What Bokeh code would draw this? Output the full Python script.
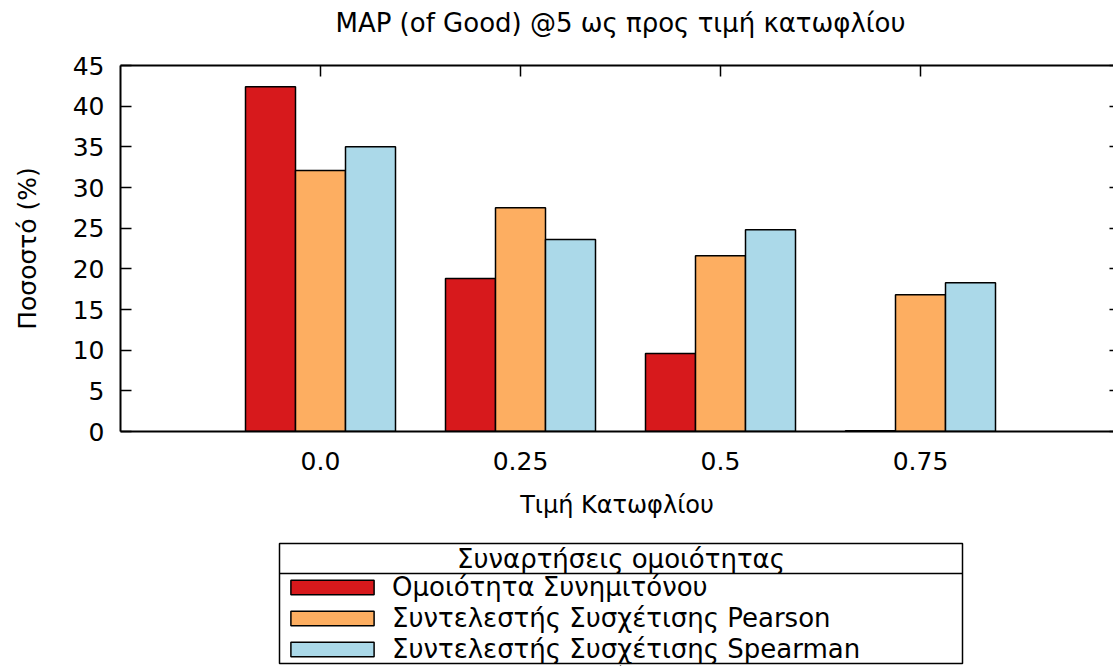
from bokeh.plotting import figure
from bokeh.layouts import column
from bokeh.models import (Range1d, LinearAxis, FixedTicker, Legend, LegendItem,
                          ColumnDataSource)
from bokeh.core.properties import value
from bokeh.embed import file_html
from bokeh.resources import INLINE

# MAP (of Good) @5 per similarity threshold
thresholds = ["0.0", "0.25", "0.5", "0.75"]
cosine = [42.4, 18.8, 9.6, 0.1]
pearson = [32.1, 27.5, 21.6, 16.8]
spearman = [35.0, 23.6, 24.8, 18.3]

series_names = ["Ομοιότητα Συνημιτόνου",
                "Συντελεστής Συσχέτισης Pearson",
                "Συντελεστής Συσχέτισης Spearman"]
series_values = [cosine, pearson, spearman]
series_colors = ["#d7191c", "#fdae61", "#abd9e9"]
chart_title = "MAP (of Good) @5 ως προς τιμή κατωφλίου"
legend_title = "Συναρτήσεις ομοιότητας"

FONT = "DejaVu Sans"
positions = list(range(len(thresholds)))
bar_w = 0.25
offsets = [-bar_w, 0.0, bar_w]

# Title strip; frame spans page x 120..1113 so data x equals page pixels
tf = figure(width=1113, height=45, output_backend="svg", toolbar_location=None,
            x_range=Range1d(120, 1113), y_range=Range1d(0, 45),
            min_border_left=120, min_border_right=0, min_border_top=0,
            min_border_bottom=0, x_axis_location=None, y_axis_location=None)
tf.grid.visible = False
tf.outline_line_color = None
tf.text(x=[620], y=[23], text=[chart_title], text_align="center",
        text_baseline="middle", text_font=value(FONT), text_font_size="26px",
        text_color="black")

p = figure(width=1113, height=485, output_backend="svg", toolbar_location=None,
           x_range=Range1d(-1, 3.965), y_range=Range1d(0, 45),
           min_border_left=120, min_border_right=0, min_border_top=20,
           min_border_bottom=99, x_axis_location=None, y_axis_location=None)
p.grid.visible = False
p.outline_line_color = None
p.background_fill_color = "white"

for vals, off, col in zip(series_values, offsets, series_colors):
    src = ColumnDataSource(dict(x=[i + off for i in positions], top=vals))
    p.vbar(x="x", top="top", bottom=0, width=bar_w, source=src,
           fill_color=col, line_color="black", line_width=1.5)

ytick = FixedTicker(ticks=list(range(0, 50, 5)))
xtick = FixedTicker(ticks=positions)

left = LinearAxis(ticker=ytick, axis_label="Ποσοστό (%)")
left.major_tick_in = 11
left.major_tick_out = 0
left.minor_tick_line_color = None
left.axis_line_width = 2
left.major_tick_line_width = 1.5
left.major_label_text_font = FONT
left.major_label_text_font_size = "25px"
left.major_label_text_color = "black"
left.major_label_standoff = 16
left.axis_label_text_font = FONT
left.axis_label_text_font_size = "25px"
left.axis_label_text_font_style = "normal"
left.axis_label_text_color = "black"
left.axis_label_standoff = 28
p.add_layout(left, "left")

bottom = LinearAxis(ticker=xtick, axis_label="Τιμή Κατωφλίου")
bottom.major_label_overrides = {i: t for i, t in zip(positions, thresholds)}
bottom.major_tick_in = 0
bottom.major_tick_out = 0
bottom.minor_tick_line_color = None
bottom.axis_line_width = 2
bottom.major_label_text_font = FONT
bottom.major_label_text_font_size = "25px"
bottom.major_label_text_color = "black"
bottom.major_label_standoff = 20
bottom.axis_label_text_font = FONT
bottom.axis_label_text_font_size = "24px"
bottom.axis_label_text_font_style = "normal"
bottom.axis_label_text_color = "black"
bottom.axis_label_standoff = 18
p.add_layout(bottom, "below")

# mirrored tick marks on the top and right edges, no labels
top = LinearAxis(ticker=xtick)
top.major_tick_in = 11
top.major_tick_out = 0
top.minor_tick_line_color = None
top.axis_line_width = 2
top.major_tick_line_width = 1.5
top.major_label_text_color = None
top.major_label_text_font_size = "1px"
top.major_label_standoff = 0
p.add_layout(top, "above")

right = LinearAxis(ticker=ytick)
right.major_tick_in = 4
right.major_tick_out = 0
right.minor_tick_line_color = None
right.axis_line_color = None
right.major_tick_line_width = 1.5
right.major_label_text_color = None
right.major_label_text_font_size = "1px"
right.major_label_standoff = 0
p.add_layout(right, "right")

# Legend panel, same pixel-based coordinates as the title strip
lg = figure(width=1113, height=136, output_backend="svg", toolbar_location=None,
            x_range=Range1d(120, 1113), y_range=Range1d(0, 136),
            min_border_left=120, min_border_right=0, min_border_top=0,
            min_border_bottom=0, x_axis_location=None, y_axis_location=None)
lg.grid.visible = False
lg.outline_line_color = None

lg.quad(left=[279], right=[962], bottom=[3], top=[123], fill_color=None,
        line_color="black", line_width=1.5)
lg.segment(x0=[279], y0=[93], x1=[962], y1=[93], line_color="black", line_width=1.5)
lg.text(x=[620.5], y=[108], text=[legend_title], text_align="center",
        text_baseline="middle", text_font=value(FONT), text_font_size="26px",
        text_color="black")

items = []
for name, col in zip(series_names, series_colors):
    # swatch source placed below the panel; only its legend entry is seen
    r = lg.vbar(x=[620], top=[-40], bottom=[-50], width=1, fill_color=col,
                line_color="black", line_width=1.5)
    items.append(LegendItem(label=name, renderers=[r]))

legend = Legend(items=items, location=(160, 2), orientation="vertical",
                glyph_width=104, glyph_height=18, label_standoff=8,
                padding=0, spacing=1, margin=0,
                border_line_color=None, background_fill_alpha=0,
                label_text_font=FONT, label_text_font_size="26px",
                label_text_color="black")
lg.add_layout(legend)

layout = column(tf, p, lg, spacing=0)
open("out.html", "w").write(file_html(layout, INLINE))
